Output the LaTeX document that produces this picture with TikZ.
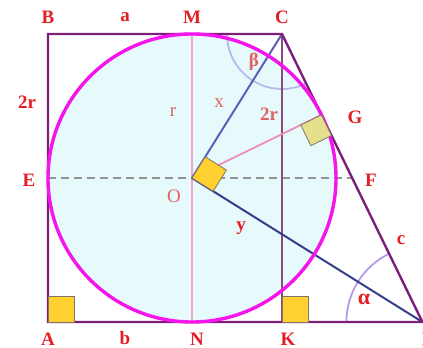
\documentclass[tikz,border=0pt]{standalone}
\usepackage{fontspec}
\setmainfont{Liberation Serif}
\usetikzlibrary{calc}
\definecolor{purp}{HTML}{7B1F7B}
\definecolor{mag}{HTML}{F514EC}
\definecolor{cfill}{HTML}{E6FAFC}
\definecolor{pinkl}{HTML}{F2A6CA}
\definecolor{ogl}{HTML}{F08CB6}
\definecolor{ckl}{HTML}{8C4A80}
\definecolor{ocl}{HTML}{5A5EB4}
\definecolor{odl}{HTML}{343B8C}
\definecolor{gold}{HTML}{FFD030}
\definecolor{gsq}{HTML}{E6E08C}
\definecolor{arcb}{HTML}{B8B8F0}
\definecolor{arca}{HTML}{B89AE8}
\definecolor{lred}{HTML}{E31E24}
\definecolor{lred2}{HTML}{E06262}
\definecolor{sqb}{HTML}{7E7468}
\begin{document}
\begin{tikzpicture}[x=1pt,y=-1pt,
  lab/.style={text=lred, font=\fontsize{19}{19}\selectfont\bfseries, inner sep=0pt},
  labl/.style={text=lred2, font=\fontsize{19}{19}\selectfont, inner sep=0pt},
  rsq/.style={fill=gold, draw=sqb, line width=0.8pt},
  thin/.style={line width=1.6pt}]
\useasboundingbox (0,0) rectangle (423,348);
\coordinate (A) at (48,322);
\coordinate (B) at (48,34);
\coordinate (C) at (282,34);
\coordinate (D) at (422.4,322);
\coordinate (O) at (192,178);
\coordinate (M) at (192,34);
\coordinate (N) at (192,322);
\coordinate (K) at (282,322);
\coordinate (E) at (48,178);
\coordinate (F) at (352.2,178);
\coordinate (G) at ($(C)!(O)!(D)$);
% circle fill
\fill[cfill] (O) circle (144pt);
% arcs
\draw[arcb, line width=1.8pt] ($(C)+(180:55)$) arc[start angle=180, end angle=64.1, radius=55];
\draw[arca, line width=1.8pt] ($(D)+(180:76)$) arc[start angle=180, end angle=244, radius=76];
% inner lines
\draw[pinkl, thin] (M) -- (N);
\draw[gray!85, line width=1.5pt, dash pattern=on 8pt off 5pt] (E) -- (F);
\draw[ckl, line width=2pt] (C) -- (K);
\draw[ogl, line width=1.8pt] (O) -- (G);
\draw[ocl, line width=2pt] (O) -- (C);
\draw[odl, line width=2pt] (O) -- (D);
% trapezoid
\draw[purp, line width=2.4pt, line join=miter] (A) -- (B) -- (C) -- (D) -- cycle;
% circle stroke
\draw[mag, line width=3.4pt] (O) circle (144pt);
% right angle squares
\draw[rsq] (A) rectangle ($(A)+(26,-26)$);
\draw[rsq] (K) rectangle ($(K)+(26,-26)$);
\coordinate (o1) at ($(O)!25pt!(C)$);
\coordinate (o2) at ($(O)!25pt!(D)$);
\draw[rsq] (O) -- (o1) -- ($(o1)+(o2)-(O)$) -- (o2) -- cycle;
\coordinate (g1) at ($(G)!23pt!(O)$);
\coordinate (g2) at ($(G)!23pt!(D)$);
\draw[fill=gsq, draw=sqb, line width=0.8pt] (G) -- (g1) -- ($(g1)+(g2)-(G)$) -- (g2) -- cycle;
% labels
\node[lab] (lB) at (48,17) {B};
\node[lab] (la) at (125,17) {a};
\node[lab] (lM) at (192,17) {M};
\node[lab] (lC) at (282,17) {C};
\node[lab] (l2r) at (27,102) {2r};
\node[labl] (lr) at (173,112) {r};
\node[labl] (lx) at (219,103) {x};
\node[text=lred2, font=\fontsize{19}{19}\selectfont\bfseries, inner sep=0pt] (lbeta) at (254,62) {β};
\node[labl, font=\fontsize{19}{19}\selectfont\bfseries] (l2ri) at (269,114) {2r};
\node[lab] (lG) at (355,117) {G};
\node[lab] (lE) at (29,180) {E};
\node[labl] (lO) at (174,196) {O};
\node[lab] (lF) at (371,180) {F};
\node[lab] (ly) at (241,228) {y};
\node[lab] (lc) at (401,240) {c};
\node[lab, font=\fontsize{22}{22}\selectfont\bfseries] (lalpha) at (364,299) {α};
\node[lab] (lA) at (48,339) {A};
\node[lab] (lb) at (125,338) {b};
\node[lab] (lN) at (197,339) {N};
\node[lab] (lK) at (288,339) {K};
\node[lab] (lD) at (429,339) {D};
\end{tikzpicture}
\end{document}
